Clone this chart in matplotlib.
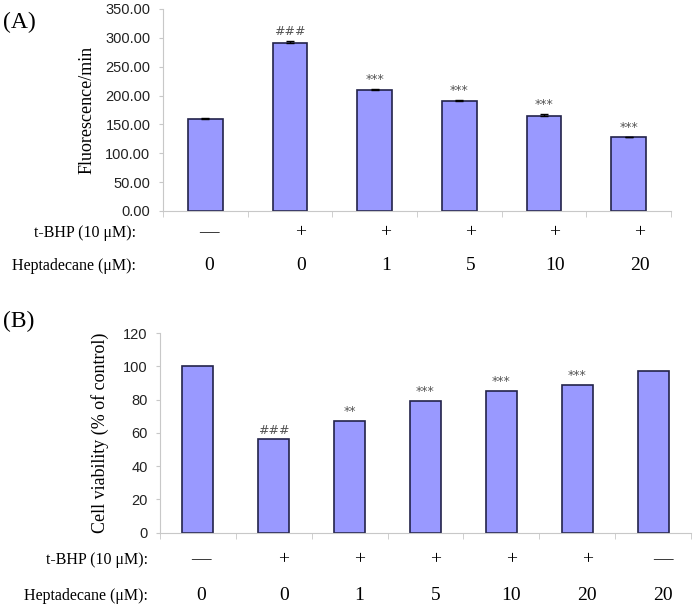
import matplotlib
matplotlib.use("Agg")
import matplotlib.pyplot as plt
import numpy as np
from matplotlib.ticker import FormatStrFormatter, FixedLocator
from matplotlib.transforms import blended_transform_factory

# panel A data
tbhp_a = ['—', '+', '+', '+', '+', '+']
hepta_a = ['0', '0', '1', '5', '10', '20']
fluor = [159, 291, 209, 191, 164, 129]
fluor_err = [1.5, 4, 3, 1.5, 4.5, 0]
fluor_marks = ['', '###', '***', '***', '***', '***']

# panel B data
tbhp_b = ['—', '+', '+', '+', '+', '+', '—']
hepta_b = ['0', '0', '1', '5', '10', '20', '20']
viability = [100, 56, 67, 79, 85, 89, 97]
via_marks = ['', '###', '**', '***', '***', '***', '']

W, H = 695, 610
BAR = '#9999FF'
EDGE = '#23234a'
GRID = '#c8c8c8'
SERIF = 'Liberation Serif'
SANS = 'Liberation Sans'


def style_axes(ax, n):
    for s in ('top', 'right'):
        ax.spines[s].set_visible(False)
    ax.spines['left'].set_color(GRID)
    ax.spines['bottom'].set_color(GRID)
    ax.set_xlim(-0.5, n - 0.5)
    ax.set_xticks([])
    ax.xaxis.set_minor_locator(FixedLocator(np.arange(n + 1) - 0.5))
    ax.tick_params(axis='x', which='minor', length=4, color=GRID)
    ax.tick_params(axis='y', length=3, color=GRID, pad=6, labelsize=10.5,
                   labelcolor='#222222')
    for lab in ax.get_yticklabels():
        lab.set_fontfamily(SANS)


def marks(ax, x, tops, labels):
    for xi, t, m in zip(x, tops, labels):
        if m:
            ax.annotate(m, (xi, t), xytext=(0, 2), textcoords='offset points',
                        ha='center', va='bottom', fontsize=9,
                        color='#555555', family='DejaVu Sans')


def rows(fig, ax, x, r1, r2, y1, y2, xr):
    tr = blended_transform_factory(ax.transData, fig.transFigure)
    fig.text(xr / W, 1 - y1 / H, 't-BHP (10 μM):', ha='right', va='center',
             fontsize=11.5, family=SERIF)
    fig.text(xr / W, 1 - y2 / H, 'Heptadecane (μM):', ha='right', va='center',
             fontsize=11.5, family=SERIF)
    for i, (a, b) in enumerate(zip(r1, r2)):
        dx = 0.04 if i == 0 else 0.13
        ax.text(x[i] + dx, 1 - y1 / H, a, transform=tr, ha='center',
                va='center', fontsize=14, family=SERIF)
        ax.text(x[i] + dx, 1 - y2 / H, b, transform=tr, ha='center',
                va='center', fontsize=14, family=SERIF)


fig = plt.figure(figsize=(W / 100, H / 100), dpi=100)

# ---- panel A
axA = fig.add_axes([163 / W, 1 - 211 / H, 508 / W, 202 / H])
xa = np.arange(len(fluor))
axA.bar(xa, fluor, width=0.41, color=BAR, edgecolor=EDGE, linewidth=1.2,
        zorder=2)
axA.errorbar(xa, fluor, yerr=[np.zeros(len(fluor)), fluor_err], fmt='none',
             ecolor='black', elinewidth=1, capsize=3, capthick=1, zorder=3)
axA.set_ylim(0, 350)
axA.set_yticks(np.arange(0, 351, 50))
axA.yaxis.set_major_formatter(FormatStrFormatter('%.2f'))
style_axes(axA, len(fluor))
axA.set_ylabel('Fluorescence/min', family=SERIF, fontsize=13, labelpad=7)
marks(axA, xa, np.array(fluor) + np.array(fluor_err), fluor_marks)
rows(fig, axA, xa, tbhp_a, hepta_a, 233, 266, 136)
fig.text(3 / W, 1 - 22 / H, '(A)', fontsize=17, family=SERIF, va='center')

# ---- panel B
axB = fig.add_axes([160 / W, 1 - 532.5 / H, 531 / W, 199.5 / H])
xb = np.arange(len(viability))
axB.bar(xb, viability, width=0.41, color=BAR, edgecolor=EDGE, linewidth=1.2,
        zorder=2)
axB.set_ylim(0, 120)
axB.set_yticks(np.arange(0, 121, 20))
style_axes(axB, len(viability))
axB.set_ylabel('Cell viability (% of control)', family=SERIF, fontsize=13,
               labelpad=10)
marks(axB, xb, viability, via_marks)
rows(fig, axB, xb, tbhp_b, hepta_b, 560, 596, 148)
fig.text(3 / W, 1 - 321 / H, '(B)', fontsize=17, family=SERIF, va='center')

fig.savefig('out.png', dpi=100)
